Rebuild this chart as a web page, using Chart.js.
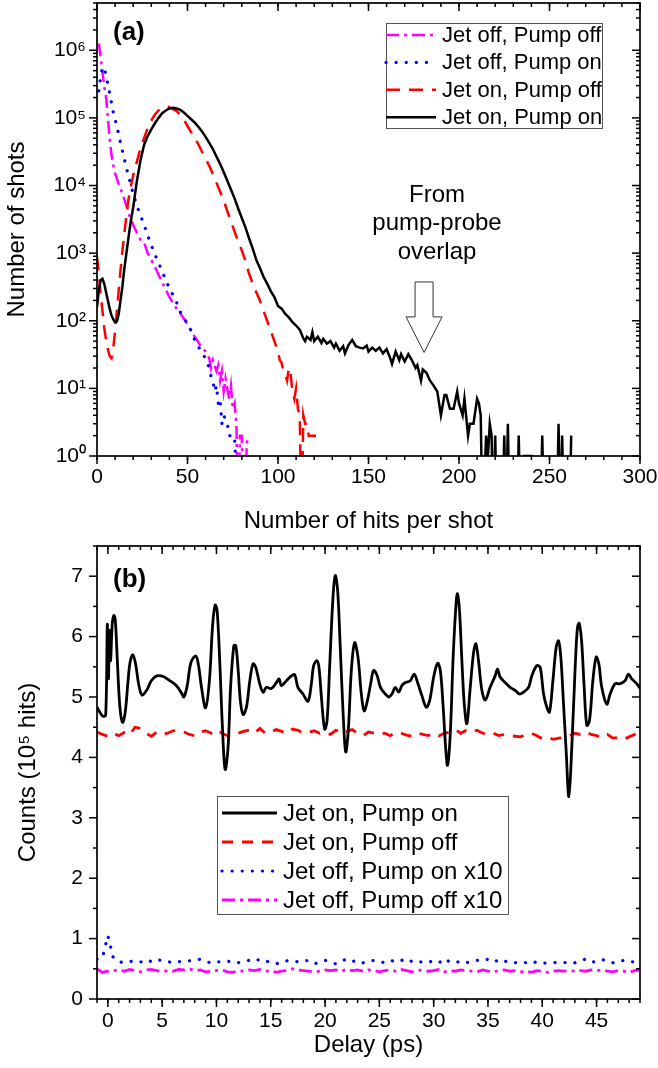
<!DOCTYPE html>
<html>
<head>
<meta charset="utf-8">
<script src="https://cdn.jsdelivr.net/npm/chart.js@4.4.0/dist/chart.umd.min.js"></script>
<style>
  html, body { margin: 0; padding: 0; background: #fff; }
  #wrap { position: relative; width: 658px; height: 1068px; }
  canvas { position: absolute; left: 0; }
  #chartA { top: 0; }
  #chartB { top: 540px; }
</style>
</head>
<body>
<div id="wrap">
  <canvas id="chartA" width="658" height="540" style="width:658px;height:540px"></canvas>
  <canvas id="chartB" width="658" height="528" style="width:658px;height:528px"></canvas>
</div>
<script>
// ---- panel (a): hits per shot histogram ----
const hitTicks = [0, 50, 100, 150, 200, 250, 300];
const shotTicks = [1, 10, 100, 1000, 10000, 100000, 1000000];

const labelsA = ['Jet on, Pump on', 'Jet on, Pump off', 'Jet off, Pump on', 'Jet off, Pump off'];

// [hits, shots]
const onOnA = [[0,158],[1,282],[2,398],[3,417],[4,355],[5,263],[6,200],[7,151],[8,120],[9,105],[10,95],[11,98],[12,126],[13,200],[14,316],[15,562],[16,891],[17,1413],[18,2239],[19,3311],[20,4786],[22,11480],[24,23440],[26,39800],[28,53700],[30,67600],[32,83200],[34,100000],[36,117500],[38,128800],[40,138000],[42,141000],[44,138000],[46,131800],[48,120000],[50,107000],[52,95500],[54,85100],[56,74100],[58,63100],[60,52500],[62,42700],[64,34700],[66,26900],[68,20900],[70,15850],[72,11750],[74,8710],[76,6460],[78,4570],[80,3310],[82,2400],[84,1660],[86,1175],[88,794],[90,603],[92,447],[94,355],[96,275],[98,224],[100,166],[102,151],[104,126],[106,112],[108,95],[110,85],[112,74],[114,55],[115,50],[116,58],[118,52],[119,68],[120,50],[122,58],[124,47],[125,54],[127,46],[129,50],[131,40],[132,46],[134,36],[136,42],[137,33],[139,44],[141,52],[143,42],[145,40],[147,39],[149,43],[150,35],[152,40],[154,36],[156,40],[158,33],[160,38],[162,28],[163,23],[165,35],[167,26],[168,32],[170,25],[172,32],[174,26],[176,20],[177,22],[179,13],[180,19],[182,17],[184,13],[186,11],[188,9],[189,6],[190,4],[192,8],[193,8],[195,5],[197,5],[199,9],[200,6],[202,4],[203,7],[205,2],[206,3],[208,3],[210,7],[211,6],[212,4],[213,0],[215,2],[216,1],[217,3],[218,2],[219,0],[220,2],[221,0],[224,0],[225,2],[226,0],[227,3],[228,0],[232,0],[233,2],[234,0],[236,1],[240,1],[241,0],[245,0],[246,2],[247,0],[254,0],[255,3],[256,0],[257,2],[258,0],[261,0],[262,2]];

const onOffA = [[0,890],[1,500],[2,250],[3,141],[4,79],[5,52],[6,38],[7,30],[8,28],[9,40],[10,71],[11,141],[12,282],[13,562],[14,1050],[15,1860],[16,3160],[17,5250],[18,7940],[20,14100],[22,22400],[24,35500],[26,50100],[28,70800],[30,91200],[32,112200],[34,128800],[36,141000],[38,148000],[40,144500],[42,135000],[44,126000],[46,112000],[48,93300],[50,75900],[52,61700],[54,50100],[56,40700],[58,31600],[60,25100],[62,19500],[64,14800],[66,11000],[68,8130],[70,6030],[72,4170],[74,2950],[76,2090],[78,1480],[80,1100],[82,760],[84,500],[86,355],[88,263],[90,200],[92,141],[94,100],[96,71],[98,50],[100,35],[101,26],[102,24],[103,18],[104,16],[105,13],[106,20],[107,16],[108,9],[109,7],[110,10],[111,5],[112,4],[113,0],[114,4],[115,3],[116,3],[117,2],[119,2],[121,2]];

const offOnA = [[1,251000],[2,398000],[3,562000],[4,550000],[5,417000],[6,316000],[7,229000],[8,166000],[9,120000],[10,95500],[11,74100],[12,56200],[13,42700],[14,33100],[15,25100],[16,19500],[17,15100],[18,12000],[19,9330],[20,7590],[22,5010],[24,3630],[26,2630],[28,1820],[30,1320],[32,955],[34,724],[36,537],[38,398],[40,302],[42,240],[44,186],[46,135],[48,112],[50,89],[52,71],[54,52],[56,42],[58,33],[60,28],[62,20],[63,15],[64,13],[65,9],[66,11],[67,6],[68,7],[69,3],[70,4],[72,3],[73,2],[74,2],[76,2],[78,0],[79,1]];

const offOffA = [[1,1260000],[2,794000],[3,479000],[4,295000],[5,200000],[6,100000],[7,50100],[8,28200],[9,20000],[10,15100],[12,10500],[14,7590],[16,5250],[18,3550],[20,2630],[22,2000],[24,1580],[26,1450],[28,1000],[30,794],[32,631],[34,479],[36,372],[38,288],[40,224],[42,182],[44,151],[46,129],[48,107],[50,89],[52,72],[54,58],[56,48],[58,40],[60,35],[62,28],[63,20],[64,26],[66,18],[67,22],[68,13],[69,18],[70,9],[71,14],[72,10],[73,7],[74,11],[75,5],[76,6],[77,3],[78,0],[79,2],[80,2],[81,0],[83,2]];

// ---- panel (b): counts vs delay ----
const delayTicks = [0, 5, 10, 15, 20, 25, 30, 35, 40, 45];
const countTicks = [0, 1, 2, 3, 4, 5, 6, 7];

const labelsB = ['Jet on, Pump on', 'Jet on, Pump off', 'Jet off, Pump on x10', 'Jet off, Pump off x10'];

// [delay, counts/1e5]
const onOnB = [[-1,4.83],[-0.75,4.75],[-0.45,4.68],[-0.2,4.7],[-0.05,6.2],[0.05,5.3],[0.15,6.1],[0.25,5.6],[0.4,6.2],[0.55,6.35],[0.68,6.28],[0.86,5.65],[1.1,4.85],[1.35,4.58],[1.6,4.75],[1.85,5.25],[2.05,5.58],[2.3,5.7],[2.55,5.55],[2.85,5.2],[3.15,5.03],[3.6,5.12],[4.0,5.27],[4.5,5.35],[5.1,5.34],[5.7,5.27],[6.3,5.19],[6.8,5.06],[7.0,5.0],[7.3,5.18],[7.65,5.57],[8.1,5.68],[8.35,5.52],[8.62,5.16],[9.0,4.82],[9.35,5.27],[9.65,6.2],[9.88,6.52],[10.06,6.43],[10.3,5.6],[10.55,4.5],[10.8,3.8],[11.07,4.17],[11.3,5.16],[11.6,5.85],[11.78,5.85],[12.0,5.44],[12.2,4.94],[12.45,4.71],[12.76,4.83],[13.07,5.27],[13.37,5.55],[13.62,5.49],[13.98,5.22],[14.3,5.08],[14.6,5.16],[15.06,5.14],[15.52,5.24],[15.77,5.3],[15.98,5.19],[16.44,5.27],[16.9,5.35],[17.2,5.37],[17.5,5.16],[17.97,5.05],[18.43,4.93],[18.74,5.22],[18.95,5.52],[19.26,5.6],[19.44,5.49],[19.69,4.94],[19.96,4.47],[20.18,4.6],[20.42,5.49],[20.73,6.65],[20.94,7.01],[21.16,6.76],[21.4,5.82],[21.65,4.78],[21.9,4.09],[22.14,4.45],[22.42,5.44],[22.72,5.9],[23.03,5.66],[23.34,5.05],[23.6,4.77],[23.9,4.94],[24.2,5.22],[24.47,5.44],[24.78,5.36],[25.1,5.16],[25.55,5.05],[25.86,5.0],[26.16,5.05],[26.47,5.16],[26.78,5.08],[27.08,5.19],[27.4,5.24],[27.85,5.27],[28.2,5.38],[28.52,5.24],[28.92,5.02],[29.32,4.83],[29.63,4.94],[30.0,5.33],[30.36,5.56],[30.61,5.44],[30.86,4.88],[31.1,4.17],[31.28,3.87],[31.53,4.39],[31.78,5.6],[32.0,6.37],[32.17,6.71],[32.36,6.48],[32.6,5.6],[32.82,4.88],[33.06,4.56],[33.37,5.16],[33.68,5.74],[33.89,5.88],[34.13,5.6],[34.44,5.11],[34.75,4.95],[35.2,5.16],[35.66,5.35],[35.88,5.46],[36.12,5.33],[36.58,5.24],[37.04,5.16],[37.5,5.11],[37.9,5.05],[38.27,5.08],[38.74,5.16],[39.04,5.35],[39.5,5.52],[39.81,5.49],[40.12,5.05],[40.42,4.83],[40.67,4.75],[40.98,5.27],[41.28,5.82],[41.5,5.93],[41.71,5.66],[41.96,4.88],[42.2,4.11],[42.45,3.35],[42.72,4.17],[43.03,5.49],[43.24,6.15],[43.4,6.22],[43.62,5.93],[43.86,5.16],[44.1,4.53],[44.35,4.61],[44.66,5.27],[44.96,5.66],[45.21,5.55],[45.48,5.16],[45.94,4.88],[46.25,5.05],[46.71,5.22],[47.17,5.22],[47.63,5.27],[47.93,5.38],[48.24,5.3],[48.7,5.22],[49.0,5.14]];

const delayGrid = [-1,-0.5,0,0.5,1,1.5,2,2.5,3,3.5,4,4.5,5,5.5,6,6.5,7,7.5,8,8.5,9,9.5,10,10.5,11,11.5,12,12.5,13,13.5,14,14.5,15,15.5,16,16.5,17,17.5,18,18.5,19,19.5,20,20.5,21,21.5,22,22.5,23,23.5,24,24.5,25,25.5,26,26.5,27,27.5,28,28.5,29,29.5,30,30.5,31,31.5,32,32.5,33,33.5,34,34.5,35,35.5,36,36.5,37,37.5,38,38.5,39,39.5,40,40.5,41,41.5,42,42.5,43,43.5,44,44.5,45,45.5,46,46.5,47,47.5,48,48.5,49];

const onOffB = [4.42,4.38,4.35,4.40,4.36,4.41,4.37,4.50,4.48,4.40,
  4.35,4.42,4.38,4.40,4.44,4.45,4.42,4.38,4.36,4.42,
  4.44,4.40,4.46,4.40,4.36,4.38,4.40,4.43,4.45,4.40,
  4.48,4.40,4.42,4.46,4.43,4.40,4.47,4.45,4.40,4.42,
  4.44,4.40,4.42,4.38,4.45,4.40,4.43,4.46,4.40,4.36,
  4.42,4.40,4.38,4.40,4.36,4.42,4.40,4.37,4.35,4.40,
  4.38,4.36,4.40,4.36,4.40,4.42,4.46,4.40,4.45,4.42,
  4.45,4.40,4.38,4.40,4.36,4.38,4.36,4.35,4.34,4.38,
  4.40,4.36,4.31,4.33,4.30,4.32,4.33,4.36,4.40,4.38,
  4.42,4.38,4.36,4.33,4.38,4.32,4.33,4.30,4.34,4.38,
  4.42];

const offOnB = [0.66,0.68,1.05,0.68,0.62,0.60,0.62,0.63,0.61,0.65,
  0.62,0.66,0.63,0.62,0.60,0.62,0.61,0.63,0.64,0.66,
  0.62,0.60,0.62,0.61,0.62,0.63,0.60,0.62,0.64,0.62,
  0.66,0.63,0.61,0.58,0.62,0.63,0.61,0.62,0.64,0.63,
  0.58,0.61,0.64,0.62,0.58,0.63,0.66,0.62,0.64,0.60,
  0.62,0.64,0.62,0.60,0.64,0.62,0.65,0.60,0.63,0.64,
  0.60,0.61,0.63,0.60,0.67,0.61,0.60,0.63,0.60,0.62,
  0.64,0.63,0.66,0.67,0.60,0.62,0.63,0.60,0.61,0.60,
  0.58,0.62,0.60,0.59,0.60,0.61,0.60,0.62,0.60,0.64,
  0.66,0.61,0.62,0.65,0.64,0.60,0.62,0.64,0.61,0.62,
  0.63];

const offOffB = [0.50,0.44,0.46,0.47,0.48,0.46,0.49,0.47,0.45,0.48,
  0.49,0.47,0.45,0.47,0.46,0.49,0.48,0.50,0.47,0.48,
  0.45,0.46,0.47,0.48,0.45,0.44,0.47,0.46,0.48,0.47,
  0.49,0.46,0.47,0.44,0.46,0.47,0.50,0.48,0.47,0.46,
  0.45,0.46,0.48,0.47,0.48,0.46,0.49,0.47,0.48,0.46,
  0.48,0.47,0.45,0.47,0.48,0.46,0.49,0.47,0.45,0.47,
  0.48,0.46,0.47,0.49,0.45,0.47,0.46,0.48,0.47,0.46,
  0.45,0.48,0.46,0.45,0.47,0.48,0.46,0.47,0.45,0.46,
  0.44,0.47,0.46,0.44,0.46,0.47,0.46,0.47,0.46,0.47,
  0.46,0.48,0.47,0.48,0.46,0.45,0.47,0.46,0.44,0.47,
  0.48];

Chart.defaults.font.family = '"Liberation Sans", Arial, sans-serif';
Chart.defaults.color = '#000';

const supDigits = ['\u2070', '\u00B9', '\u00B2', '\u00B3', '\u2074', '\u2075', '\u2076'];
const toXY = pairs => pairs.map(p => ({ x: p[0], y: p[1] }));
// zero counts cannot sit on a log axis: send them just below the axis (clipped), like the original plot
const toLogXY = pairs => pairs.map(p => ({ x: p[0], y: p[1] > 0 ? p[1] : 0.1 }));
const onGrid = vals => vals.map((v, i) => ({ x: delayGrid[i], y: v }));

// minor tick positions (axis decoration only)
const hitMinor = [];
for (let v = 0; v <= 300; v += 10) hitMinor.push(v);
const shotMinor = [];
for (let e = 0; e <= 6; e++) for (let k = 2; k <= 9; k++) if (k * Math.pow(10, e) <= 5e6) shotMinor.push(k * Math.pow(10, e));
const delayMinor = [];
for (let v = -1; v <= 49; v += 1) delayMinor.push(v);
const countMinor = [];
for (let v = 0.5; v <= 7.5; v += 1) countMinor.push(v);

const noPad = s => { s.paddingLeft = 0; s.paddingRight = 0; s.paddingTop = 0; s.paddingBottom = 0; };

const frameTicks = {
  id: 'frameTicks',
  afterDraw(chart, args, o) {
    const { ctx, chartArea: a } = chart;
    const xs = chart.scales.x, ys = chart.scales.y;
    const seg = (x1, y1, x2, y2) => { ctx.beginPath(); ctx.moveTo(x1, y1); ctx.lineTo(x2, y2); ctx.stroke(); };
    ctx.save();
    ctx.strokeStyle = '#000';
    ctx.lineWidth = 1.5;
    o.xMajor.forEach(v => { const p = xs.getPixelForValue(v); seg(p, a.bottom, p, a.bottom + 8); seg(p, a.top, p, a.top + 8); });
    o.xMinor.forEach(v => { const p = xs.getPixelForValue(v); seg(p, a.bottom, p, a.bottom + 4); seg(p, a.top, p, a.top + 4); });
    o.yMajor.forEach(v => { const p = ys.getPixelForValue(v); seg(a.left - 8, p, a.left, p); seg(a.right - 8, p, a.right, p); });
    o.yMinor.forEach(v => { const p = ys.getPixelForValue(v); seg(a.left - 4, p, a.left, p); seg(a.right - 4, p, a.right, p); });
    ctx.lineWidth = 1.7;
    ctx.strokeRect(a.left, a.top, a.right - a.left, a.bottom - a.top);
    ctx.restore();
  }
};

const boxLegend = {
  id: 'boxLegend',
  afterDraw(chart, args, o) {
    const ctx = chart.ctx;
    ctx.save();
    ctx.fillStyle = '#fff';
    ctx.fillRect(o.x, o.y, o.w, o.h);
    ctx.strokeStyle = '#555';
    ctx.lineWidth = 1;
    ctx.strokeRect(o.x + 0.5, o.y + 0.5, o.w, o.h);
    ctx.font = o.size + 'px "Liberation Sans", Arial, sans-serif';
    ctx.textBaseline = 'middle';
    ctx.fillStyle = '#000';
    o.order.forEach((di, row) => {
      const ds = chart.data.datasets[di];
      const y = o.y0 + row * o.rowH;
      ctx.save();
      ctx.strokeStyle = ds.borderColor;
      ctx.lineWidth = ds.borderWidth;
      ctx.lineCap = ds.borderCapStyle || 'butt';
      ctx.setLineDash(ds.borderDash || []);
      ctx.beginPath();
      ctx.moveTo(o.s0, y);
      ctx.lineTo(o.s1, y);
      ctx.stroke();
      ctx.restore();
      ctx.fillText(ds.label, o.tx, y + 1);
    });
    ctx.restore();
  }
};

const notes = {
  id: 'notes',
  afterDraw(chart, args, o) {
    const ctx = chart.ctx;
    ctx.save();
    ctx.fillStyle = '#000';
    ctx.font = 'bold 26px "Liberation Sans", Arial, sans-serif';
    ctx.textBaseline = 'middle';
    ctx.textAlign = 'left';
    ctx.fillText(o.panel, o.panelX, o.panelY);
    if (o.lines) {
      ctx.font = '24px "Liberation Sans", Arial, sans-serif';
      ctx.textAlign = 'center';
      ctx.textBaseline = 'alphabetic';
      o.lines.forEach((t, i) => ctx.fillText(t, o.textX, o.textY + i * 28.3));
    }
    if (o.arrow) {
      const xs = chart.scales.x, ys = chart.scales.y;
      const cx = xs.getPixelForValue(o.arrow.x);
      const top = ys.getPixelForValue(o.arrow.top);
      const neck = ys.getPixelForValue(o.arrow.neck);
      const tip = ys.getPixelForValue(o.arrow.tip);
      ctx.beginPath();
      ctx.moveTo(cx - 9, top);
      ctx.lineTo(cx + 9, top);
      ctx.lineTo(cx + 9, neck);
      ctx.lineTo(cx + 18, neck);
      ctx.lineTo(cx, tip);
      ctx.lineTo(cx - 18, neck);
      ctx.lineTo(cx - 9, neck);
      ctx.closePath();
      ctx.fillStyle = '#fff';
      ctx.fill();
      ctx.strokeStyle = '#333';
      ctx.lineWidth = 1;
      ctx.stroke();
    }
    ctx.restore();
  }
};

// ---------- chart (a) ----------
new Chart(document.getElementById('chartA'), {
  type: 'line',
  data: {
    datasets: [
      { label: labelsA[0], data: toLogXY(onOnA), borderColor: '#000', borderWidth: 2.5 },
      { label: labelsA[1], data: toLogXY(onOffA), borderColor: '#ff0000', borderWidth: 2.5, borderDash: [14, 9] },
      { label: labelsA[2], data: toLogXY(offOnA), borderColor: '#0000ff', borderWidth: 3.2, borderDash: [0.1, 10], borderCapStyle: 'round' },
      { label: labelsA[3], data: toLogXY(offOffA), borderColor: '#ff00ff', borderWidth: 2.5, borderDash: [13, 5, 3, 5] }
    ]
  },
  options: {
    responsive: false,
    animation: false,
    layout: { padding: { left: 0, right: 18, top: 3, bottom: 0 } },
    elements: { point: { radius: 0 }, line: { tension: 0 } },
    plugins: {
      legend: { display: false },
      tooltip: { enabled: false },
      frameTicks: { xMajor: hitTicks, xMinor: hitMinor, yMajor: shotTicks, yMinor: shotMinor },
      boxLegend: { x: 386, y: 23, w: 216, h: 105, y0: 35, rowH: 27.4, s0: 386, s1: 436, tx: 442, size: 22, order: [3, 2, 1, 0] },
      notes: {
        panel: '(a)', panelX: 113, panelY: 33,
        lines: ['From', 'pump-probe', 'overlap'], textX: 437, textY: 202,
        arrow: { x: 180.7, top: 375, neck: 114, tip: 34 }
      }
    },
    scales: {
      x: {
        type: 'linear', min: 0, max: 300,
        afterBuildTicks: s => { s.ticks = hitTicks.map(v => ({ value: v })); },
        afterFit: s => { s.height = 84; noPad(s); },
        grid: { display: false, drawTicks: false },
        border: { display: false },
        ticks: { font: { size: 21 }, padding: 9, autoSkip: false, maxRotation: 0 },
        title: { display: true, text: 'Number of hits per shot', font: { size: 24 }, padding: { top: 0, bottom: 4.6 } }
      },
      y: {
        type: 'logarithmic', min: 1, max: 5e6,
        afterBuildTicks: s => { s.ticks = shotTicks.map(v => ({ value: v })); },
        afterFit: s => { s.width = 97; noPad(s); },
        grid: { display: false, drawTicks: false },
        border: { display: false },
        ticks: { font: { size: 21 }, padding: 11, autoSkip: false, callback: v => '10' + supDigits[Math.round(Math.log10(v))] },
        title: { display: true, text: 'Number of shots', font: { size: 24 }, padding: { top: 2.5, bottom: 0 } }
      }
    }
  },
  plugins: [frameTicks, boxLegend, notes]
});

// ---------- chart (b) ----------
new Chart(document.getElementById('chartB'), {
  type: 'line',
  data: {
    datasets: [
      { label: labelsB[0], data: toXY(onOnB), borderColor: '#000', borderWidth: 2.8, tension: 0.35 },
      { label: labelsB[1], data: onGrid(onOffB), borderColor: '#ff0000', borderWidth: 2.8, borderDash: [11, 9] },
      { label: labelsB[2], data: onGrid(offOnB), borderColor: '#0000ff', borderWidth: 3.2, borderDash: [0.1, 10], borderCapStyle: 'round' },
      { label: labelsB[3], data: onGrid(offOffB), borderColor: '#ff00ff', borderWidth: 2.8, borderDash: [13, 5, 3, 5] }
    ]
  },
  options: {
    responsive: false,
    animation: false,
    layout: { padding: { left: 0, right: 18, top: 6, bottom: 0 } },
    elements: { point: { radius: 0 }, line: { tension: 0 } },
    plugins: {
      legend: { display: false },
      tooltip: { enabled: false },
      frameTicks: { xMajor: delayTicks, xMinor: delayMinor, yMajor: countTicks, yMinor: countMinor },
      boxLegend: { x: 217, y: 256, w: 291, h: 118, y0: 273, rowH: 29, s0: 222, s1: 277, tx: 283, size: 24, order: [0, 1, 2, 3] },
      notes: { panel: '(b)', panelX: 113, panelY: 40 }
    },
    scales: {
      x: {
        type: 'linear', min: -1, max: 49,
        afterBuildTicks: s => { s.ticks = delayTicks.map(v => ({ value: v })); },
        afterFit: s => { s.height = 69; noPad(s); },
        grid: { display: false, drawTicks: false },
        border: { display: false },
        ticks: { font: { size: 21 }, padding: 10, autoSkip: false, maxRotation: 0 },
        title: { display: true, text: 'Delay (ps)', font: { size: 24 }, padding: { top: 0, bottom: 8 } }
      },
      y: {
        type: 'linear', min: 0, max: 7.5,
        afterBuildTicks: s => { s.ticks = countTicks.map(v => ({ value: v })); },
        afterFit: s => { s.width = 97; noPad(s); },
        grid: { display: false, drawTicks: false },
        border: { display: false },
        ticks: { font: { size: 21 }, padding: 14, autoSkip: false },
        title: { display: true, text: 'Counts (10\u2075 hits)', font: { size: 24 }, padding: { top: 13.6, bottom: 0 } }
      }
    }
  },
  plugins: [frameTicks, boxLegend, notes]
});
</script>
</body>
</html>
